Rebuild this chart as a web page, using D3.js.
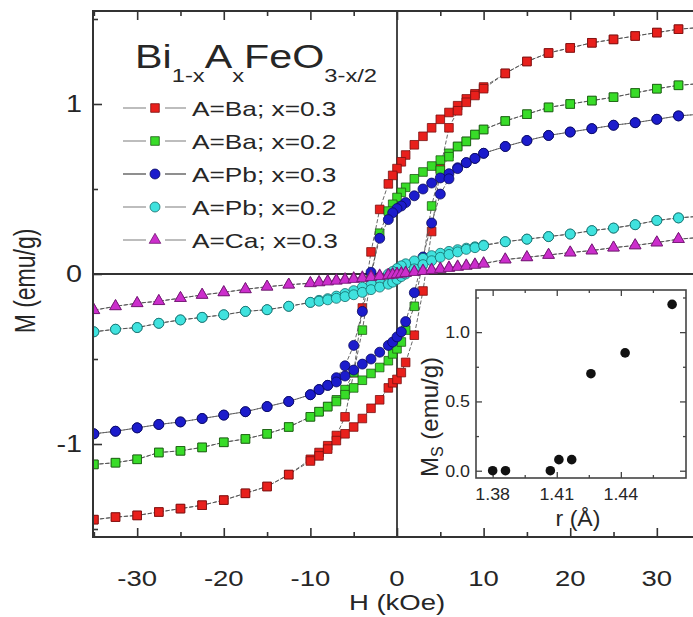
<!DOCTYPE html>
<html><head><meta charset="utf-8">
<script src="https://cdn.jsdelivr.net/npm/d3@7"></script>
<style>body{margin:0;background:#fff}text{font-family:"Liberation Sans",Arial,sans-serif;fill:#262626}</style>
</head><body><svg id="c" width="693" height="617"></svg>
<script>
// ---------------- data ----------------
const fieldDesc = [35,32.5,30,27.5,25,22.5,20,17.5,15,12.5,10,9,8,7,6,5,4,3,2,1,0.5,0,-0.5,-1,-2,-3,-4,-5,-6,-7,-8,-9,-10,-12.5,-15,-17.5,-20,-22.5,-25,-27.5,-30,-32.5,-35];
const fieldAsc  = [-35,-32.5,-30,-27.5,-25,-22.5,-20,-17.5,-15,-12.5,-10,-9,-8,-7,-6,-5,-4,-3,-2,-1,-0.5,0,0.5,1,2,3,4,5,6,7,8,9,10,12.5,15,17.5,20,22.5,25,27.5,30,32.5,35];

const baX03Desc = [1.45,1.44,1.42,1.40,1.38,1.36,1.33,1.30,1.25,1.18,1.10,1.06,1.03,0.99,0.95,0.91,0.86,0.81,0.76,0.70,0.66,0.62,0.58,0.53,0.38,0.13,-0.20,-0.58,-0.84,-0.95,-1.01,-1.05,-1.09,-1.18,-1.25,-1.29,-1.33,-1.36,-1.38,-1.40,-1.42,-1.43,-1.445];
const baX03Asc  = [-1.445,-1.43,-1.42,-1.40,-1.38,-1.36,-1.33,-1.29,-1.25,-1.18,-1.10,-1.07,-1.03,-0.98,-0.94,-0.90,-0.85,-0.79,-0.74,-0.67,-0.64,-0.62,-0.58,-0.52,-0.36,-0.10,0.25,0.62,0.86,0.96,1.01,1.05,1.09,1.18,1.25,1.30,1.33,1.36,1.38,1.40,1.42,1.44,1.45];

const baX02Desc = [1.12,1.11,1.09,1.065,1.04,1.02,1.00,0.98,0.94,0.90,0.85,0.82,0.78,0.75,0.71,0.67,0.635,0.60,0.56,0.51,0.48,0.45,0.41,0.37,0.24,-0.02,-0.33,-0.58,-0.68,-0.74,-0.78,-0.81,-0.84,-0.90,-0.94,-0.97,-0.99,-1.02,-1.04,-1.05,-1.09,-1.11,-1.12];
const baX02Asc  = [-1.12,-1.11,-1.09,-1.05,-1.04,-1.02,-0.99,-0.97,-0.94,-0.90,-0.84,-0.81,-0.78,-0.75,-0.71,-0.67,-0.625,-0.585,-0.55,-0.51,-0.47,-0.44,-0.40,-0.33,-0.19,0.08,0.40,0.61,0.69,0.75,0.78,0.82,0.85,0.90,0.94,0.98,1.00,1.02,1.04,1.065,1.09,1.11,1.12];

const pbX03Desc = [0.94,0.93,0.91,0.89,0.875,0.855,0.835,0.815,0.785,0.75,0.71,0.68,0.655,0.625,0.59,0.565,0.535,0.50,0.46,0.42,0.40,0.385,0.36,0.32,0.21,0.01,-0.22,-0.42,-0.54,-0.61,-0.655,-0.68,-0.71,-0.75,-0.78,-0.81,-0.83,-0.85,-0.87,-0.885,-0.905,-0.925,-0.94];
const pbX03Asc  = [-0.94,-0.925,-0.905,-0.885,-0.87,-0.85,-0.83,-0.81,-0.78,-0.75,-0.71,-0.68,-0.655,-0.635,-0.60,-0.565,-0.53,-0.50,-0.46,-0.42,-0.40,-0.37,-0.34,-0.28,-0.11,0.10,0.30,0.47,0.56,0.62,0.655,0.68,0.71,0.75,0.785,0.815,0.835,0.855,0.875,0.89,0.91,0.93,0.94];

const pbX02Desc = [0.34,0.33,0.315,0.29,0.27,0.255,0.235,0.22,0.205,0.19,0.17,0.16,0.152,0.143,0.133,0.122,0.108,0.092,0.077,0.06,0.048,0.032,0.015,0.0,-0.03,-0.055,-0.078,-0.098,-0.115,-0.13,-0.145,-0.155,-0.167,-0.19,-0.21,-0.22,-0.24,-0.255,-0.27,-0.29,-0.315,-0.325,-0.34];
const pbX02Asc  = [-0.34,-0.325,-0.315,-0.29,-0.27,-0.255,-0.24,-0.22,-0.21,-0.19,-0.167,-0.16,-0.152,-0.143,-0.133,-0.122,-0.108,-0.092,-0.077,-0.06,-0.048,-0.032,-0.015,0.0,0.03,0.055,0.078,0.098,0.115,0.13,0.145,0.155,0.167,0.19,0.205,0.22,0.235,0.255,0.27,0.29,0.315,0.33,0.34];

const caX03Desc = [0.215,0.205,0.185,0.168,0.155,0.138,0.126,0.112,0.098,0.085,0.063,0.056,0.05,0.044,0.038,0.032,0.026,0.02,0.014,0.008,0.005,0.002,-0.001,-0.004,-0.009,-0.014,-0.02,-0.025,-0.031,-0.037,-0.042,-0.048,-0.054,-0.063,-0.075,-0.09,-0.108,-0.123,-0.142,-0.16,-0.172,-0.19,-0.213];
const caX03Asc  = [-0.213,-0.19,-0.172,-0.16,-0.142,-0.123,-0.108,-0.09,-0.075,-0.063,-0.055,-0.05,-0.045,-0.04,-0.035,-0.03,-0.025,-0.019,-0.013,-0.008,-0.005,-0.002,0.001,0.005,0.011,0.017,0.023,0.029,0.035,0.041,0.047,0.053,0.06,0.085,0.098,0.112,0.126,0.138,0.155,0.168,0.185,0.205,0.215];

const seriesLabels = ["A=Ba; x=0.3","A=Ba; x=0.2","A=Pb; x=0.3","A=Pb; x=0.2","A=Ca; x=0.3"];
const titleParts = [["Bi",0],["1-x",1],["A",0],["x",1],["FeO",0],["3-x/2",1]];

const xTickLabels = ["-30","-20","-10","0","10","20","30"];
const xTickValues = [-30,-20,-10,0,10,20,30];
const yTickLabels = ["-1","0","1"];
const yTickValues = [-1,0,1];

// inset
const insetRadius = [1.380,1.386,1.407,1.411,1.417,1.426,1.442,1.464];
const insetMs     = [0.00,0.00,0.00,0.08,0.08,0.70,0.85,1.20];
const insetXTicks = [1.38,1.41,1.44];
const insetXLabels = ["1.38","1.41","1.44"];
const insetYTicks = [0,0.5,1.0];
const insetYLabels = ["0.0","0.5","1.0"];

// ---------------- drawing ----------------
const svg = d3.select("#c");
const SX = 1.25; // horizontal text stretch in the reference
const x = d3.scaleLinear().domain([-35.1,35.1]).range([93,701]);
const y = d3.scaleLinear().domain([-1.547,1.547]).range([537,11]);

function txt(parent, px, py, s, size, anchor, sx) {
  return parent.append("text")
    .attr("transform", `translate(${px},${py}) scale(${sx==null?SX:sx},1)`)
    .attr("text-anchor", anchor).attr("font-size", size).text(s);
}

svg.append("defs").append("clipPath").attr("id","plotclip")
  .append("rect").attr("x",93).attr("y",11).attr("width",608).attr("height",526);

const styles = [
  {shape:d3.symbolSquare,  size:74, fill:"#e8201c", stroke:"#7a1010", line:"#888"},
  {shape:d3.symbolSquare,  size:74, fill:"#38dc28", stroke:"#1d5a14", line:"#888"},
  {shape:d3.symbolCircle,  size:78, fill:"#1c1ccc", stroke:"#0a0a60", line:"#333"},
  {shape:d3.symbolCircle,  size:78, fill:"#3fe2de", stroke:"#146a68", line:"#888"},
  {shape:d3.symbolTriangle,size:58, fill:"#cc2ecc", stroke:"#6e186e", line:"#888"}
];
const descData = [baX03Desc, baX02Desc, pbX03Desc, pbX02Desc, caX03Desc];
const ascData  = [baX03Asc,  baX02Asc,  pbX03Asc,  pbX02Asc,  caX03Asc];

// zero lines
svg.append("line").attr("x1",x(-35.1)).attr("x2",x(35.1)).attr("y1",y(0)).attr("y2",y(0))
  .attr("stroke","#333").attr("stroke-width",1.8);
svg.append("line").attr("x1",x(0)).attr("x2",x(0)).attr("y1",11).attr("y2",537)
  .attr("stroke","#333").attr("stroke-width",1.8);

const plot = svg.append("g").attr("clip-path","url(#plotclip)");
const line = d3.line().x(d=>x(d[0])).y(d=>y(d[1]));

styles.forEach((st,i)=>{
  const branches = [
    fieldDesc.map((h,k)=>[h, descData[i][k]]),
    fieldAsc.map((h,k)=>[h, ascData[i][k]])
  ];
  const g = plot.append("g");
  branches.forEach(b=>{
    g.append("path").attr("d", line(b)).attr("fill","none")
      .attr("stroke","#555").attr("stroke-width",0.9).attr("stroke-dasharray","4,2");
  });
  branches.forEach(b=>{
    g.selectAll(null).data(b).enter().append("path")
      .attr("d", d3.symbol().type(st.shape).size(st.size))
      .attr("transform", d=>`translate(${x(d[0])},${y(d[1])})`)
      .attr("fill", st.fill).attr("stroke", st.stroke).attr("stroke-width",0.8);
  });
});

// frame
const frame = svg.append("g").attr("stroke","#333").attr("stroke-width",2);
frame.append("line").attr("x1",93).attr("x2",93).attr("y1",10).attr("y2",538);
frame.append("line").attr("x1",92).attr("x2",701).attr("y1",11).attr("y2",11);
frame.append("line").attr("x1",92).attr("x2",701).attr("y1",537).attr("y2",537);

function styleAxis(g){ g.select(".domain").remove(); g.selectAll(".tick line").attr("stroke","#333").attr("stroke-width",1.6); }
const minorX = [-35,-25,-15,-5,5,15,25,35];
const minorY = [-1.5,-0.5,0.5,1.5];
svg.append("g").attr("transform","translate(0,537)").call(d3.axisBottom(x).tickValues(xTickValues).tickSize(-9).tickFormat("")).call(styleAxis);
svg.append("g").attr("transform","translate(0,537)").call(d3.axisBottom(x).tickValues(minorX).tickSize(-5).tickFormat("")).call(styleAxis);
svg.append("g").attr("transform","translate(0,11)").call(d3.axisTop(x).tickValues(xTickValues).tickSize(-9).tickFormat("")).call(styleAxis);
svg.append("g").attr("transform","translate(0,11)").call(d3.axisTop(x).tickValues(minorX).tickSize(-5).tickFormat("")).call(styleAxis);
svg.append("g").attr("transform","translate(93,0)").call(d3.axisLeft(y).tickValues(yTickValues).tickSize(-9).tickFormat("")).call(styleAxis);
svg.append("g").attr("transform","translate(93,0)").call(d3.axisLeft(y).tickValues(minorY).tickSize(-5).tickFormat("")).call(styleAxis);

// tick labels
xTickValues.forEach((v,i)=> txt(svg, x(v), 586, xTickLabels[i], 22, "middle"));
yTickValues.forEach((v,i)=> txt(svg, 82, y(v)+8, yTickLabels[i], 23, "end"));

// axis titles
txt(svg, x(0), 610, "H (kOe)", 22, "middle");
svg.append("text").attr("transform","translate(35,281) rotate(-90) scale(1,1.25)")
  .attr("text-anchor","middle").attr("font-size",23).text("M (emu/g)");

// legend title
const tt = svg.append("text").attr("transform",`translate(135,68) scale(${SX},1)`).attr("font-size",33);
let prevSub = 0;
titleParts.forEach(([s,sub])=>{
  const ts = tt.append("tspan").text(s).attr("font-size", sub?19:33);
  if (sub !== prevSub) ts.attr("dy", sub?14:-14);
  prevSub = sub;
});

// legend rows
seriesLabels.forEach((lab,i)=>{
  const st = styles[i];
  const cy = 108 + 33*i;
  svg.append("line").attr("x1",123).attr("x2",146).attr("y1",cy).attr("y2",cy).attr("stroke",st.line).attr("stroke-width",1.1);
  svg.append("line").attr("x1",165).attr("x2",186).attr("y1",cy).attr("y2",cy).attr("stroke",st.line).attr("stroke-width",1.1);
  svg.append("path").attr("d", d3.symbol().type(st.shape).size(st.size)).attr("transform",`translate(155,${cy})`)
    .attr("fill",st.fill).attr("stroke",st.stroke).attr("stroke-width",0.8);
  txt(svg, 192, cy+8, lab, 21, "start");
});

// ---------------- inset ----------------
const xi = d3.scaleLinear().domain([1.3722,1.4705]).range([476,686]);
const yi = d3.scaleLinear().domain([-0.0525,1.304]).range([478,290]);
const ins = svg.append("g");
ins.append("rect").attr("x",476).attr("y",290).attr("width",210).attr("height",188).attr("fill","#fff").attr("stroke","#444").attr("stroke-width",1.6);
function styleI(g){ g.select(".domain").remove(); g.selectAll(".tick line").attr("stroke","#444").attr("stroke-width",1.3); }
const iMinX=[1.395,1.425,1.455], iMinY=[0.25,0.75,1.25];
ins.append("g").attr("transform","translate(0,478)").call(d3.axisBottom(xi).tickValues(insetXTicks).tickSize(-6).tickFormat("")).call(styleI);
ins.append("g").attr("transform","translate(0,478)").call(d3.axisBottom(xi).tickValues(iMinX).tickSize(-3).tickFormat("")).call(styleI);
ins.append("g").attr("transform","translate(0,290)").call(d3.axisTop(xi).tickValues(insetXTicks).tickSize(-6).tickFormat("")).call(styleI);
ins.append("g").attr("transform","translate(0,290)").call(d3.axisTop(xi).tickValues(iMinX).tickSize(-3).tickFormat("")).call(styleI);
ins.append("g").attr("transform","translate(476,0)").call(d3.axisLeft(yi).tickValues(insetYTicks).tickSize(-6).tickFormat("")).call(styleI);
ins.append("g").attr("transform","translate(476,0)").call(d3.axisLeft(yi).tickValues(iMinY).tickSize(-3).tickFormat("")).call(styleI);
ins.append("g").attr("transform","translate(686,0)").call(d3.axisRight(yi).tickValues(insetYTicks).tickSize(-6).tickFormat("")).call(styleI);
ins.append("g").attr("transform","translate(686,0)").call(d3.axisRight(yi).tickValues(iMinY).tickSize(-3).tickFormat("")).call(styleI);

ins.selectAll("circle.pt").data(insetRadius.map((r,k)=>[r,insetMs[k]])).enter().append("circle")
  .attr("cx",d=>xi(d[0])).attr("cy",d=>yi(d[1])).attr("r",4.8).attr("fill","#111");

insetXTicks.forEach((v,i)=> txt(ins, xi(v), 500, insetXLabels[i], 17, "middle", 1.05));
insetYTicks.forEach((v,i)=> txt(ins, 470, yi(v)+6, insetYLabels[i], 17, "end", 1.05));
txt(ins, 578, 526, "r (Å)", 22, "middle", 1.05);
const ml = ins.append("text").attr("transform","translate(438,477) rotate(-90)").attr("text-anchor","start").attr("font-size",24);
ml.append("tspan").text("M");
ml.append("tspan").text("S").attr("font-size",16).attr("dy",5);
ml.append("tspan").text(" (emu/g)").attr("dy",-5);
</script></body></html>
